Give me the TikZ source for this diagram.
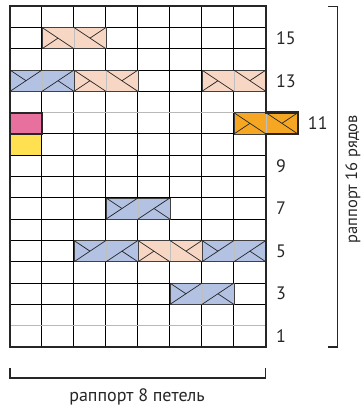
\documentclass[tikz,border=0pt]{standalone}
\usepackage{fontspec}
\setmainfont{PT Sans}
\usetikzlibrary{calc}
\definecolor{cablepeach}{RGB}{248,214,196}
\definecolor{cableblue}{RGB}{179,193,227}
\definecolor{cableorange}{RGB}{245,166,35}
\definecolor{stitchpink}{RGB}{232,112,159}
\definecolor{stitchyellow}{RGB}{255,224,80}
\colorlet{gridlines}{black}
\tikzset{
    chartframe/.style={line width=2.4pt, black!85, line join=miter},
    cablebox/.style={draw=black!75, line width=0.6pt},
    cableline/.style={black!85, line width=0.7pt},
    chartlabel/.style={font=\fontsize{18}{21}\selectfont, text=black!85, inner sep=0pt},
    bracket/.style={line width=1.1pt, black!85}
}

\begin{document}
\begin{tikzpicture}[x=32pt, y=21.31pt]
        \useasboundingbox (-0.3125,-2.723) rectangle (11.03,16.29);
        % coordinates
        \coordinate (A) at (0,0);
        % grid
        \draw[gridlines, line width=1pt, xstep=32pt, ystep=21.31pt] (A) grid (8,16);
        \draw[gray!55, line width=1pt] (0,11) -- (8,11);
        \draw[gray!55, line width=1pt] (0,1) -- (8,1);
        % single stitches
        \fill[stitchyellow] (0,9) rectangle (1,10);
        \draw[gridlines, line width=1pt] (0,9) rectangle (1,10);
        \fill[stitchpink] (0,10) rectangle (1,11);
        % cables, right over left
        \foreach \c/\r/\col in {1/15/cablepeach, 2/13/cablepeach, 6/13/cablepeach,
            7/11/cableorange, 4/5/cablepeach}
        {
            \fill[\col] (\c,\r-1) rectangle (\c+2,\r);
            \draw[gray!50, line width=0.5pt] (\c+1,\r-1) -- (\c+1,\r);
            \draw[cablebox] (\c,\r-1) rectangle (\c+2,\r);
            \draw[cableline] (\c,\r) -- (\c+1,\r-1);
            \draw[cableline] (\c+1,\r) -- (\c+2,\r-1);
            \draw[cableline] (\c,\r-1) -- (\c+0.5,\r-0.5);
            \draw[cableline] (\c+1.5,\r-0.5) -- (\c+2,\r);
        }
        % cables, left over right
        \foreach \c/\r in {0/13, 3/7, 2/5, 6/5, 5/3}
        {
            \fill[cableblue] (\c,\r-1) rectangle (\c+2,\r);
            \draw[gray!50, line width=0.5pt] (\c+1,\r-1) -- (\c+1,\r);
            \draw[cablebox] (\c,\r-1) rectangle (\c+2,\r);
            \draw[cableline] (\c,\r-1) -- (\c+1,\r);
            \draw[cableline] (\c+1,\r-1) -- (\c+2,\r);
            \draw[cableline] (\c,\r) -- (\c+0.5,\r-0.5);
            \draw[cableline] (\c+1.5,\r-0.5) -- (\c+2,\r-1);
        }
        % frame
        \draw[chartframe] (A) -- (0,16) -- (8,16) -- (8,11) -- (9,11)
            -- (9,10) -- (8,10) -- (8,0) -- cycle;
        \draw[chartframe, line width=2pt] (0,10) rectangle (1,11);
        % row numbers
        \foreach \r/\dx in {1/0, 3/0, 5/0, 7/0, 9/0, 11/1, 13/0, 15/0}
        {
            \node[chartlabel, anchor=west] (row\r) at (8.31+\dx,\r-0.5) {\r};
        }
        % brackets
        \coordinate (rtop) at (10.24,16);
        \coordinate (rbot) at (10.24,0);
        \draw[bracket] ($(rtop)+(-0.3,0)$) -- (rtop) -- (rbot) -- ++(-0.3,0);
        \node[chartlabel, font=\fontsize{16.5}{20}\selectfont, rotate=90] (rows)
            at (10.72,7.88) {раппорт 16 рядов};
        \coordinate (bleft) at (0,-1.455);
        \coordinate (bright) at (8,-1.455);
        \draw[bracket] ($(bleft)+(0,0.47)$) -- (bleft) -- (bright) -- ++(0,0.47);
        \node[chartlabel] (stitches) at (3.97,-2.33) {раппорт 8 петель};
    \end{tikzpicture}
\end{document}
